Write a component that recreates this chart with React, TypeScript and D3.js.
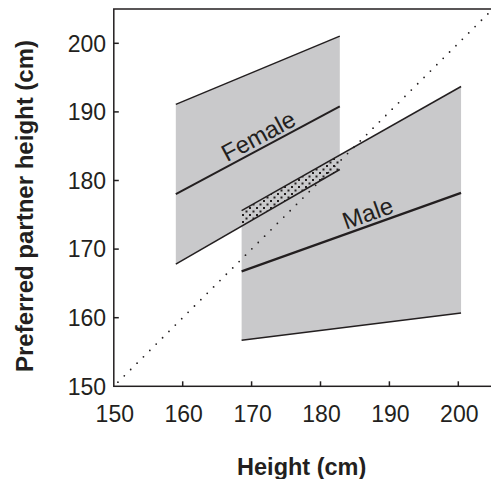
import React from "react";
import * as d3 from "d3";

// ---- data ----
const xTicks = [150, 160, 170, 180, 190, 200];
const yTicks = [150, 160, 170, 180, 190, 200];
const domain = [150, 205];

const femaleX = [159, 182.8];
const femaleUpper = [191.1, 201.05];
const femaleMean = [178.0, 190.8];
const femaleLower = [167.8, 181.6];

const maleX = [168.55, 200.4];
const maleUpper = [175.6, 193.7];
const maleMean = [166.75, 178.2];
const maleLower = [156.7, 160.7];

const labelNames = ["Female", "Male"];
const labelAt = [166.7, 183.9];

const W = 491;
const H = 479;
const INK = "#231f20";
const GRAY = "#c9c9cb";
const FONT = "'Liberation Sans', Arial, Helvetica, sans-serif";

export default function App() {
  const x = d3.scaleLinear().domain(domain).range([113.8, 113.8 + 55 * 6.89]);
  const y = d3.scaleLinear().domain(domain).range([386.3, 386.3 - 55 * 6.86]);

  const band = (xs: number[], lo: number[], hi: number[]) => {
    const pts = xs.map((v, i) => ({ x: v, lo: lo[i], hi: hi[i] }));
    return d3
      .area<{ x: number; lo: number; hi: number }>()
      .x((d) => x(d.x))
      .y0((d) => y(d.lo))
      .y1((d) => y(d.hi))(pts) as string;
  };
  const line = (xs: number[], ys: number[]) =>
    d3.line<number>().x((d) => x(d)).y((_, i) => y(ys[i]))(xs) as string;

  // overlap region: between female lower edge and male upper edge
  const fLow = d3.scaleLinear().domain(femaleX).range(femaleLower);
  const mUp = d3.scaleLinear().domain(maleX).range(maleUpper);
  const ox = [Math.max(femaleX[0], maleX[0]), Math.min(femaleX[1], maleX[1])];
  const overlap = band(ox, ox.map((v) => fLow(v)), ox.map((v) => mUp(v)));

  const fMean = d3.scaleLinear().domain(femaleX).range(femaleMean);
  const mMean = d3.scaleLinear().domain(maleX).range(maleMean);
  const labelFns = [fMean, mMean];

  const labels = labelNames.map((name, i) => {
    const f = labelFns[i];
    const lx = labelAt[i];
    const px = x(lx);
    const py = y(f(lx));
    const p2x = x(lx + 1);
    const p2y = y(f(lx + 1));
    const ang = (Math.atan2(p2y - py, p2x - px) * 180) / Math.PI;
    return { name, px, py, ang };
  });

  return (
    <svg
      width={W}
      height={H}
      style={{ position: "absolute", left: 0, top: 0, background: "#fff" }}
      fontFamily={FONT}
    >
      <defs>
        <pattern id="stip" width="7" height="7" patternUnits="userSpaceOnUse">
          <rect width="7" height="7" fill={GRAY} />
          <rect x="0.5" y="0.5" width="2" height="2" fill={INK} />
          <rect x="4" y="4" width="2" height="2" fill={INK} />
        </pattern>
      </defs>

      {/* bands */}
      <path d={band(femaleX, femaleLower, femaleUpper)} fill={GRAY} />
      <path d={band(maleX, maleLower, maleUpper)} fill={GRAY} />
      <path d={overlap} fill="url(#stip)" />

      {/* y = x reference */}
      <line
        x1={x(150.6)}
        y1={y(150.6)}
        x2={x(205)}
        y2={y(205)}
        stroke={INK}
        strokeWidth={1.8}
        strokeDasharray="0 9"
        strokeLinecap="round"
      />

      {/* band edges and means */}
      <path d={line(femaleX, femaleUpper)} fill="none" stroke={INK} strokeWidth={1.5} />
      <path d={line(femaleX, femaleLower)} fill="none" stroke={INK} strokeWidth={1.5} />
      <path d={line(femaleX, femaleMean)} fill="none" stroke={INK} strokeWidth={2} />
      <path d={line(maleX, maleUpper)} fill="none" stroke={INK} strokeWidth={1.5} />
      <path d={line(maleX, maleLower)} fill="none" stroke={INK} strokeWidth={1.5} />
      <path d={line(maleX, maleMean)} fill="none" stroke={INK} strokeWidth={2.2} />

      {labels.map((l) => (
        <text
          key={l.name}
          transform={`translate(${l.px},${l.py}) rotate(${l.ang}) translate(0,-4)`}
          fontSize={24}
          fill={INK}
        >
          {l.name}
        </text>
      ))}

      {/* frame */}
      <rect
        x={x(150)}
        y={y(205)}
        width={x(205) - x(150)}
        height={y(150) - y(205)}
        fill="none"
        stroke={INK}
        strokeWidth={1.5}
      />

      {/* x axis ticks */}
      {xTicks.map((t) => (
        <g key={"x" + t}>
          {t !== 150 && (
            <line x1={x(t)} x2={x(t)} y1={y(150)} y2={y(150) - 5} stroke={INK} strokeWidth={1.5} />
          )}
          <text x={x(t) + 1} y={y(150) + 35.4} textAnchor="middle" fontSize={23} fill={INK}>
            {t}
          </text>
        </g>
      ))}
      {/* y axis ticks */}
      {yTicks.map((t) => (
        <g key={"y" + t}>
          {t !== 150 && (
            <line x1={x(150)} x2={x(150) + 5} y1={y(t)} y2={y(t)} stroke={INK} strokeWidth={1.5} />
          )}
          <text x={106} y={y(t)} dy="0.36em" textAnchor="end" fontSize={23} fill={INK}>
            {t}
          </text>
        </g>
      ))}

      {/* axis titles */}
      <text x={301.7} y={475} textAnchor="middle" fontSize={23.5} fontWeight="bold" fill={INK}>
        Height (cm)
      </text>
      <text
        transform="translate(33,206) rotate(-90)"
        textAnchor="middle"
        fontSize={24}
        fontWeight="bold"
        fill={INK}
      >
        Preferred partner height (cm)
      </text>
    </svg>
  );
}
